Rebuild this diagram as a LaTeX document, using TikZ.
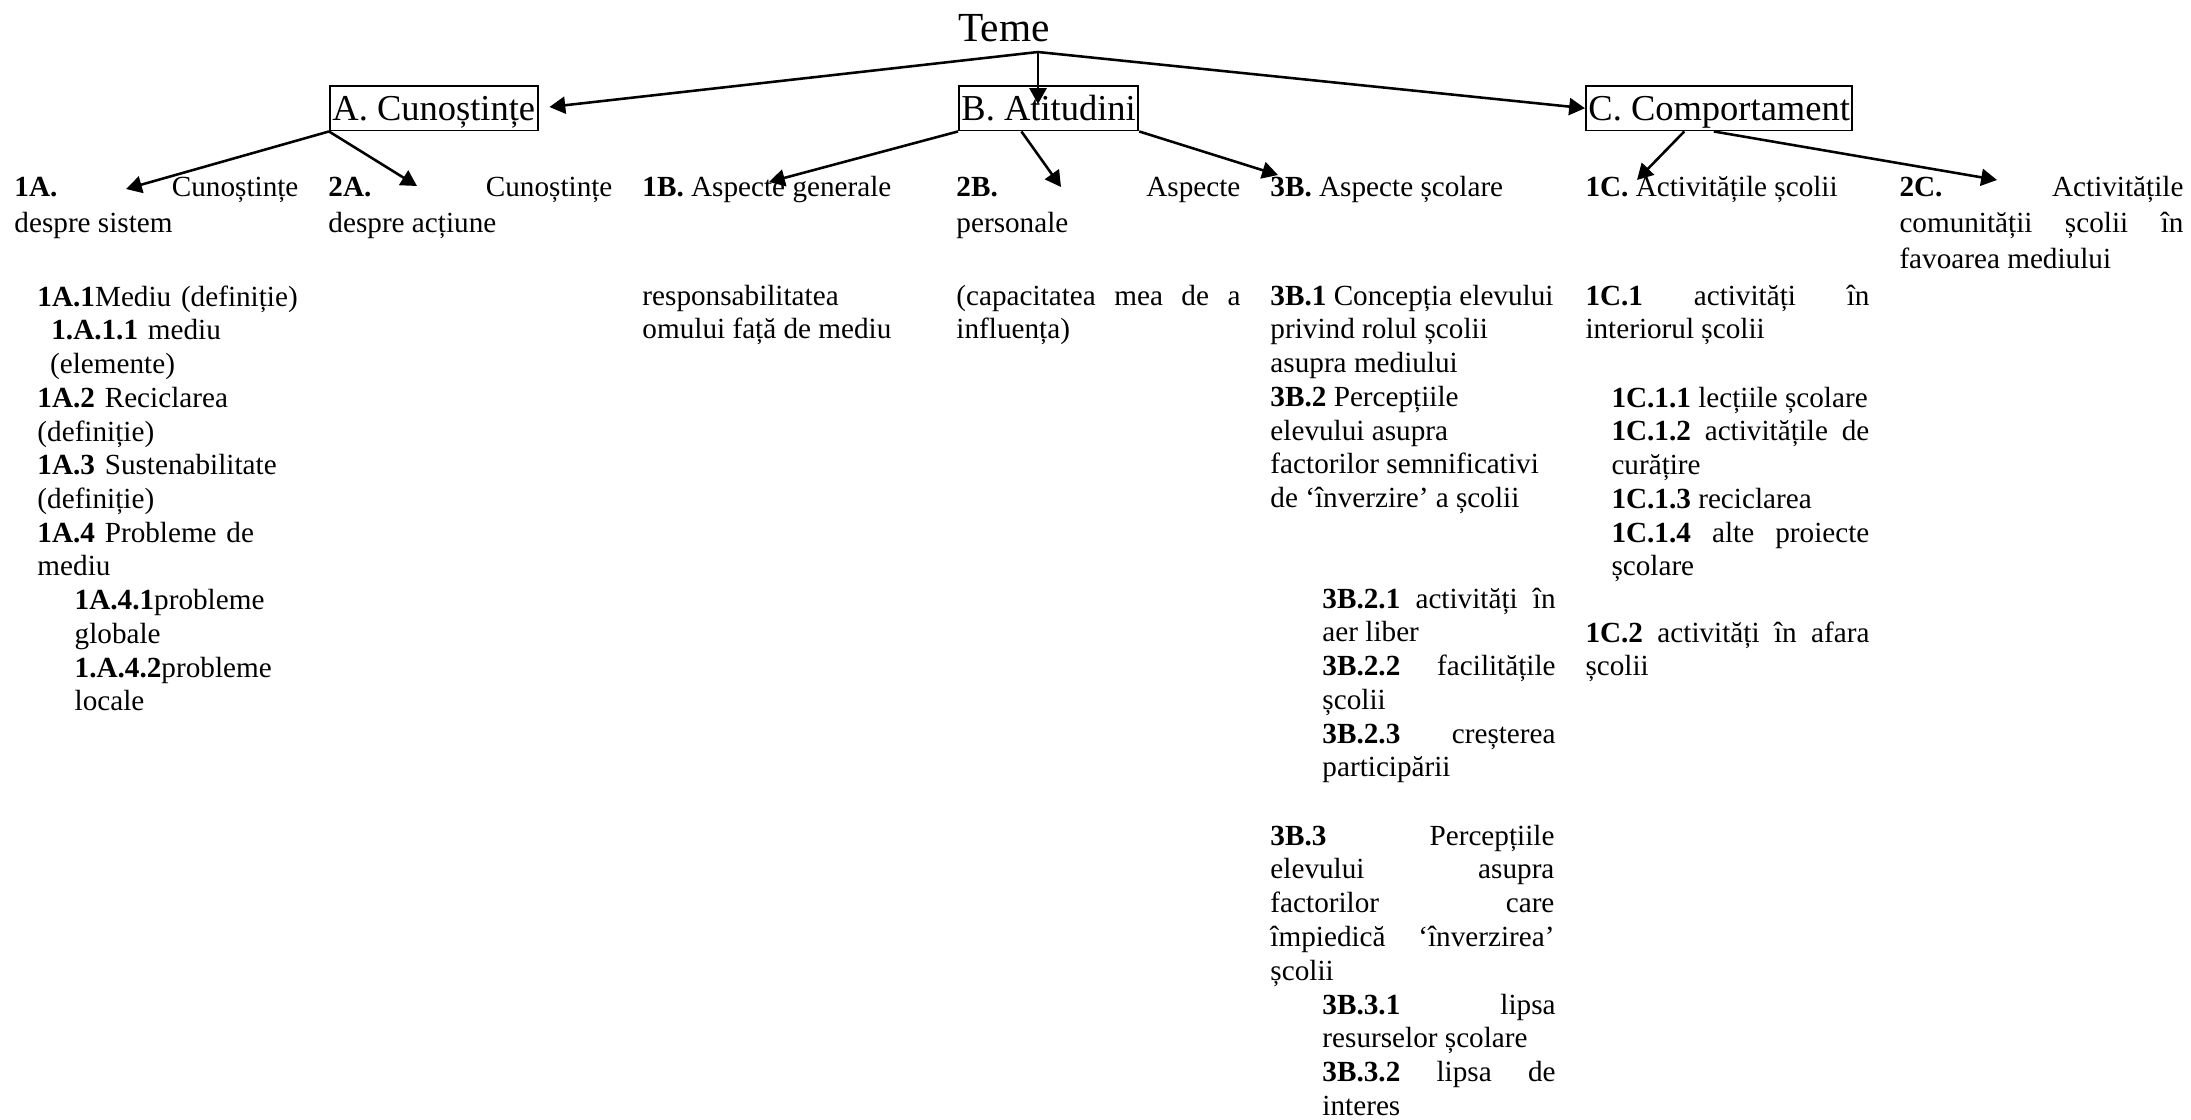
\documentclass[tikz,border=0pt]{standalone}
\usepackage{fontspec}
\setmainfont{Liberation Serif}
\usepackage{tikz}
\usetikzlibrary{arrows.meta,calc}
\hyphenpenalty=10000
\exhyphenpenalty=10000
\hbadness=10000

\tikzset{
  tema/.style={draw, line width=0.8pt, inner xsep=1pt, inner ysep=0pt, text height=14.2pt, text depth=4.1pt, anchor=base west, font=\fontsize{15}{18}\selectfont},
  txt/.style={inner sep=0pt, anchor=base west, text width=116.7pt, align=justify, font=\fontsize{12}{13.87}\selectfont},
  lvl/.style={txt, font=\fontsize{12}{14.8}\selectfont},
  link/.style={-{Triangle[length=6.5pt,width=7pt]}, line width=1.05pt}
}

\begin{document}
\begin{tikzpicture}[x=0.411pt, y=-0.411pt]
\useasboundingbox (0,0) rectangle (2191,1119);

% title and the three themes
\node[inner sep=0pt, anchor=base west, font=\fontsize{17}{20}\selectfont] (teme) at (958,41.5) {Teme};
\coordinate (hub) at (1038,52);
\node[tema] (cun) at (329,120.5) {A. Cunoștințe};
\node[tema] (atit) at (958,120.5) {B. Atitudini};
\node[tema] (comp) at (1585,120.5) {C. Comportament};

% second level
\node[lvl] (sys) at (14,196) {\textbf{1A.} Cunoștințe\linebreak despre sistem};
\node[lvl] (act) at (328,196) {\textbf{2A.} Cunoștințe\linebreak despre acțiune};
\node[lvl] (gen) at (642,196) {\textbf{1B.} Aspecte generale};
\node[lvl] (pers) at (956,196) {\textbf{2B.} Aspecte\linebreak personale};
\node[lvl] (scol) at (1270,196) {\textbf{3B.} Aspecte școlare};
\node[lvl] (actsc) at (1585,196) {\textbf{1C.} Activitățile școlii};
\node[lvl] (comun) at (1899,196) {\textbf{2C.} Activitățile\linebreak comunității școlii în\linebreak favoarea mediului};

% details
\node[txt, align=left] (mediu) at (37,306) {\textbf{1A.1}Mediu (definiție)\\
\hspace*{5.7pt}\textbf{1.A.1.1} mediu\\
\hspace*{5.2pt}(elemente)\\
\textbf{1A.2} Reciclarea\\
(definiție)\\
\textbf{1A.3} Sustenabilitate\\
(definiție)\\
\textbf{1A.4} Probleme de\\
mediu\\
\hspace*{15.3pt}\textbf{1A.4.1}probleme\\
\hspace*{15.3pt}globale\\
\hspace*{15.3pt}\textbf{1.A.4.2}probleme\\
\hspace*{15.3pt}locale};
\node[txt] (resp) at (642,305) {responsabilitatea\\omului față de mediu};
\node[txt] (capac) at (956,305) {(capacitatea mea de a\linebreak influența)};
\node[txt] (rol) at (1270,305) {\textbf{3B.1} Concepția elevului\\privind rolul școlii\\asupra mediului\\\textbf{3B.2} Percepțiile\\elevului asupra\\factorilor semnificativi\\de ‘înverzire’ a școlii};
\node[txt, text width=95.8pt] (fact) at (1322,608) {\textbf{3B.2.1} activități în\linebreak aer liber\\\textbf{3B.2.2} facilitățile\linebreak școlii\\\textbf{3B.2.3} creșterea\linebreak participării};
\node[txt] (imped) at (1270,845) {\textbf{3B.3} Percepțiile\linebreak elevului asupra\linebreak factorilor care\linebreak împiedică ‘înverzirea’\linebreak școlii};
\node[txt, text width=95.8pt] (lipsa) at (1322,1014) {\textbf{3B.3.1} lipsa\linebreak resurselor școlare\\\textbf{3B.3.2} lipsa de\linebreak interes};
\node[txt] (inter) at (1585,305) {\textbf{1C.1} activități în\linebreak interiorul școlii};
\node[txt, text width=106pt] (lectii) at (1611,407) {\textbf{1C.1.1} lecțiile școlare\\\textbf{1C.1.2} activitățile de\linebreak curățire\\\textbf{1C.1.3} reciclarea\\\textbf{1C.1.4} alte proiecte\linebreak școlare};
\node[txt] (afara) at (1585,642) {\textbf{1C.2} activități în afara\linebreak școlii};

% arrow ends
\coordinate (tatit) at (1038,104);
\coordinate (tsys) at (126,189);
\coordinate (tact) at (417,186);
\coordinate (tgen) at (769,182);
\coordinate (tpers) at (1061,187);
\coordinate (tscol) at (1278,175);
\coordinate (tactsc) at (1637,180);
\coordinate (tcomun) at (1997,180);

\draw[link, shorten >=4.5pt] (hub) -- (cun.east);
\draw[link] (hub) -- (tatit);
\draw[link] (hub) -- (comp.west);
\draw[link] (cun.south west) -- (tsys);
\draw[link] (cun.south west) -- (tact);
\draw[link] (atit.south west) -- (tgen);
\draw[link] ($(atit.south west)!0.35!(atit.south east)$) -- (tpers);
\draw[link] (atit.south east) -- (tscol);
\draw[link] ($(comp.south west)!0.37!(comp.south east)$) -- (tactsc);
\draw[link] ($(comp.south west)!0.48!(comp.south east)$) -- (tcomun);
\end{tikzpicture}
\end{document}
